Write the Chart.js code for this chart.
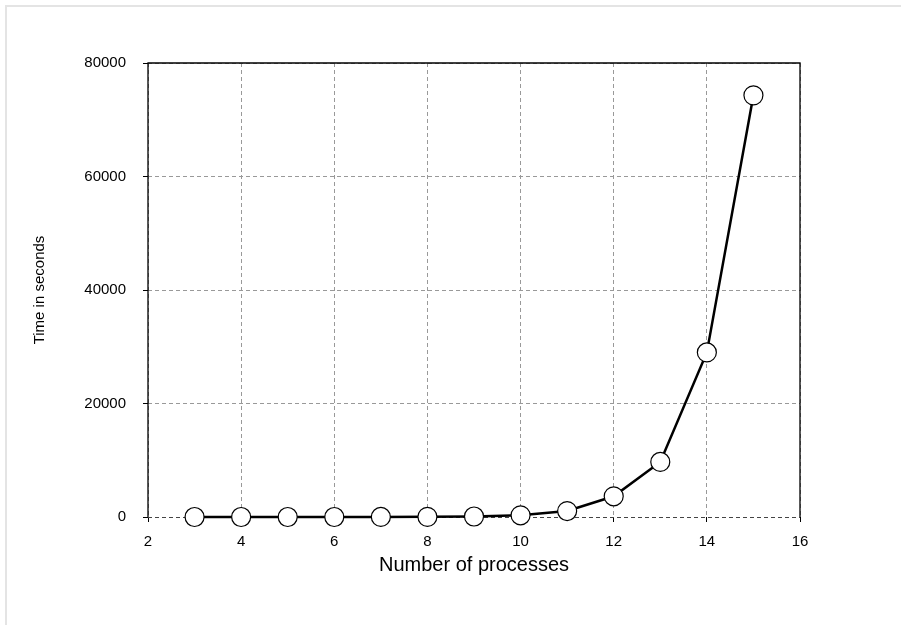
<!DOCTYPE html>
<html>
<head>
<meta charset="utf-8">
<script src="https://cdn.jsdelivr.net/npm/chart.js@4"></script>
<style>
  html, body { margin: 0; padding: 0; background: #fff; }
  canvas { display: block; }
</style>
</head>
<body>
<canvas id="chart" width="901" height="625"></canvas>
<script>
// 計測データ（プロセス数 → 実行時間[秒]）
const processes = [3, 4, 5, 6, 7, 8, 9, 10, 11, 12, 13, 14, 15];
const seconds = [0.1, 0.3, 1, 2, 8, 25, 90, 300, 1050, 3650, 9700, 29000, 74300];

const xTicks = [2, 4, 6, 8, 10, 12, 14, 16];
const yTicks = [0, 20000, 40000, 60000, 80000];

const FONT = "'Liberation Sans', Arial, sans-serif";

// 外枠（画像の上・左の薄い線）とプロット領域の枠線
const framePlugin = {
  id: 'frame',
  beforeDraw(chart) {
    const c = chart.ctx;
    c.save();
    c.strokeStyle = '#e4e4e4';
    c.lineWidth = 2;
    c.beginPath();
    c.moveTo(6, chart.height);
    c.lineTo(6, 6);
    c.lineTo(chart.width, 6);
    c.stroke();
    c.restore();
  },
  beforeDatasetsDraw(chart) {
    const a = chart.chartArea;
    const c = chart.ctx;
    c.save();
    c.strokeStyle = '#000';
    c.lineWidth = 1.3;
    c.beginPath();
    c.moveTo(a.left, a.bottom);
    c.lineTo(a.left, a.top);
    c.lineTo(a.right, a.top);
    c.lineTo(a.right, a.bottom);
    c.stroke();
    c.restore();
  },
};

new Chart(document.getElementById('chart'), {
  type: 'line',
  data: {
    datasets: [{
      data: processes.map((p, i) => ({ x: p, y: seconds[i] })),
      borderColor: '#000',
      borderWidth: 2.5,
      pointRadius: 9.5,
      pointHoverRadius: 9.5,
      pointBackgroundColor: '#fff',
      pointBorderColor: '#000',
      pointBorderWidth: 1.2,
      tension: 0,
      clip: false,
    }],
  },
  options: {
    responsive: false,
    animation: false,
    events: [],
    layout: { padding: { left: 27, top: 63, right: 101, bottom: 44 } },
    plugins: {
      legend: { display: false },
      tooltip: { enabled: false },
    },
    scales: {
      x: {
        type: 'linear',
        min: 2,
        max: 16,
        afterBuildTicks: s => { s.ticks = xTicks.map(v => ({ value: v })); },
        afterFit: s => { s.height = 625 - 44 - 517; },
        grid: {
          color: '#999',
          lineWidth: 1,
          tickColor: '#000',
          tickLength: 5,
          tickBorderDash: [],
        },
        border: { display: false, dash: [4, 3] },
        ticks: { color: '#000', padding: 11, font: { family: FONT, size: 15 } },
        title: {
          display: true,
          text: 'Number of processes',
          color: '#000',
          padding: { top: 4, bottom: 4 },
          font: { family: FONT, size: 20 },
        },
      },
      y: {
        min: 0,
        max: 80000,
        afterBuildTicks: s => { s.ticks = yTicks.map(v => ({ value: v })); },
        afterFit: s => { s.width = 148 - 27; },
        grid: {
          color: ctx => (ctx.tick && ctx.tick.value === 0 ? '#444' : '#999'),
          lineWidth: 1,
          tickColor: '#000',
          tickLength: 5,
          tickBorderDash: [],
        },
        border: { display: false, dash: [4, 3] },
        ticks: {
          color: '#000',
          padding: 17,
          font: { family: FONT, size: 15 },
          callback: v => String(v),
        },
        title: {
          display: true,
          text: 'Time in seconds',
          color: '#000',
          padding: { top: 4, bottom: 4 },
          font: { family: FONT, size: 15 },
        },
      },
    },
  },
  plugins: [framePlugin],
});
</script>
</body>
</html>
